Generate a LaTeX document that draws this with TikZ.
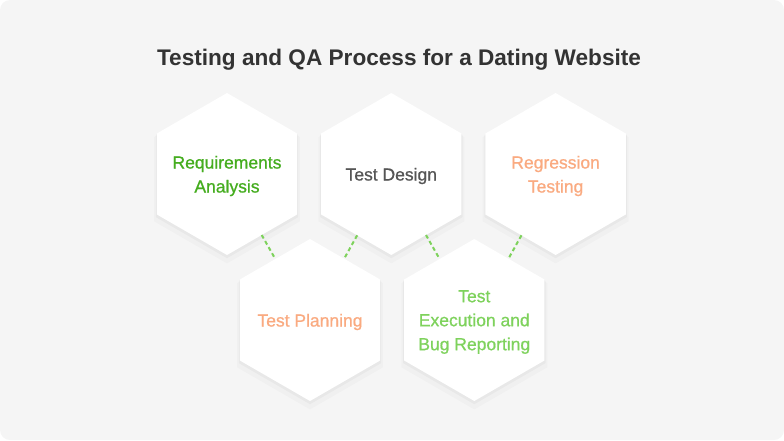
\documentclass[tikz,border=0pt]{standalone}
\usepackage{fontspec}
\setmainfont{Liberation Sans}
\newfontfamily\medfont[FakeBold=0.8]{Liberation Sans}
\usepackage{tikz}
\usetikzlibrary{positioning}
\usetikzlibrary{shapes.geometric}
\usetikzlibrary{shadows}

\definecolor{bggray}{HTML}{F5F5F5}
\definecolor{titlegray}{HTML}{333333}
\definecolor{darkgreen}{HTML}{45AD1F}
\definecolor{lightgreen}{HTML}{7ED25C}
\definecolor{peach}{HTML}{FAAA80}
\definecolor{textgray}{HTML}{555555}

\tikzset{
	hexbox/.style={regular polygon, regular polygon sides=6, shape border rotate=30,
		minimum size=162pt, inner sep=0pt, outer sep=0pt, fill=white,
		drop shadow={shadow xshift=0pt, shadow yshift=-5pt, shadow scale=1.04, opacity=.02, fill=black},
		drop shadow={shadow xshift=0pt, shadow yshift=-2pt, shadow scale=1.015, opacity=.03, fill=black}},
	hextext/.style={align=center, inner sep=0pt, yshift=-2pt, font=\medfont\fontsize{17.5}{24}\selectfont},
	link/.style={draw=lightgreen, line width=2pt, dash pattern=on 4pt off 3pt}
}

\begin{document}
\begin{tikzpicture}[x=1pt, y=-1pt, node distance=24pt]
			\useasboundingbox (0,0) rectangle (784,440);
			\fill[bggray, rounded corners=10pt] (0,0) rectangle (784,440);
			\node(Title)[text=titlegray, font=\fontsize{22.6}{28}\bfseries\selectfont] at (399,59.5) {Testing and QA Process for a Dating Website};
			\node[hexbox, label={[hextext, text=darkgreen]center:Requirements\\Analysis}] (Requirements) at (227,174) {};
			\node(Design)[hexbox, right=of Requirements, label={[hextext, text=textgray]center:Test Design}]{};
			\node(Regression)[hexbox, right=of Design, label={[hextext, text=peach]center:Regression\\Testing}]{};
			\node(Planning)[hexbox, label={[hextext, text=peach]center:Test Planning}] at (310,320) {};
			\node(Execution)[hexbox, right=of Planning, label={[hextext, text=lightgreen]center:Test\\Execution and\\Bug Reporting}]{};
			\draw[link] (Requirements) to (Planning);
			\draw[link] (Design) to (Planning);
			\draw[link] (Design) to (Execution);
			\draw[link] (Regression) to (Execution);
		\end{tikzpicture}
\end{document}
